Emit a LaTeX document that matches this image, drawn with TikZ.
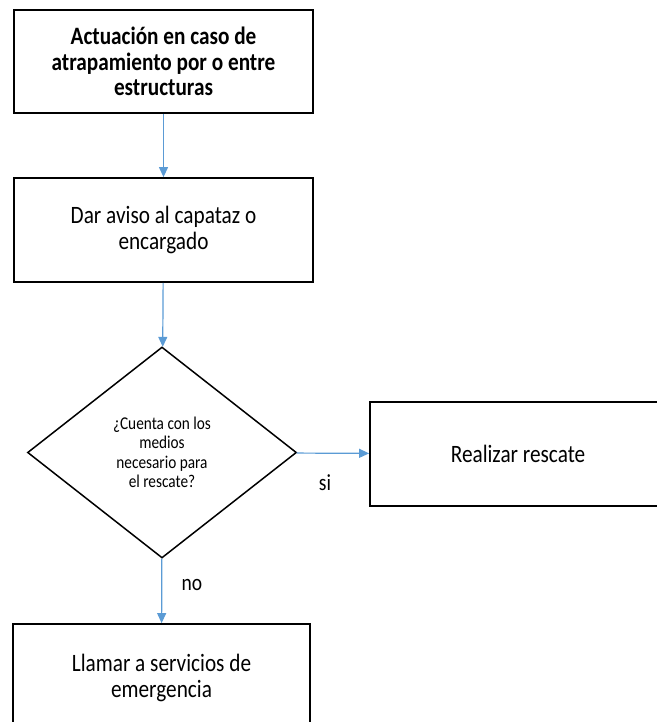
\documentclass[tikz,border=0pt]{standalone}
\usepackage{fontspec}
\setmainfont[FakeStretch=0.85]{Carlito}
\usetikzlibrary{shapes.geometric, arrows.meta}
\definecolor{azulflecha}{RGB}{91,155,213}

\begin{document}
\begin{tikzpicture}[x=1pt, y=-1pt,
	caja/.style={rectangle, draw=black, line width=1.8pt, align=center, inner sep=0pt, font=\fontsize{25}{25.5}\selectfont},
	rombo/.style={diamond, draw=black, line width=1.5pt, align=center, inner sep=0pt, font=\fontsize{18}{19.5}\selectfont},
	texto/.style={draw=none, font=\fontsize{23}{24}\selectfont},
	flecha/.style={draw=azulflecha, line width=1.2pt, -{Triangle[length=10pt, width=9pt]}}]
				\useasboundingbox (0,0) rectangle (656,722);
				
				\node[caja, minimum width=299pt, minimum height=103pt, font=\bfseries\fontsize{25}{25.5}\selectfont] (inicio) at (163.5,61.5){Actuación en caso de\\atrapamiento por o entre\\estructuras};
				\node[caja, minimum width=299pt, minimum height=104pt] (aviso) at (163.5,230){Dar aviso al capataz o\\encargado};
				\node[rombo, minimum width=269pt, minimum height=211pt] (medios) at (162,452.5){¿Cuenta con los\\medios\\necesario para\\el rescate?};
				\node[caja, minimum width=296pt, minimum height=104pt] (rescate) at (518,454){Realizar rescate};
				\node[caja, minimum width=297pt, minimum height=108pt] (llamar) at (161.5,678){Llamar a servicios de\\emergencia};
				
				\node[texto] (si) at (325,483){si};
				\node[texto] (no) at (192,585){no};
				
				\path (inicio) edge[flecha] (aviso);
				\path (aviso) edge[flecha] (medios);
				\path (medios) edge[flecha] (rescate);
				\path (medios) edge[flecha] (llamar);
\end{tikzpicture}
\end{document}
